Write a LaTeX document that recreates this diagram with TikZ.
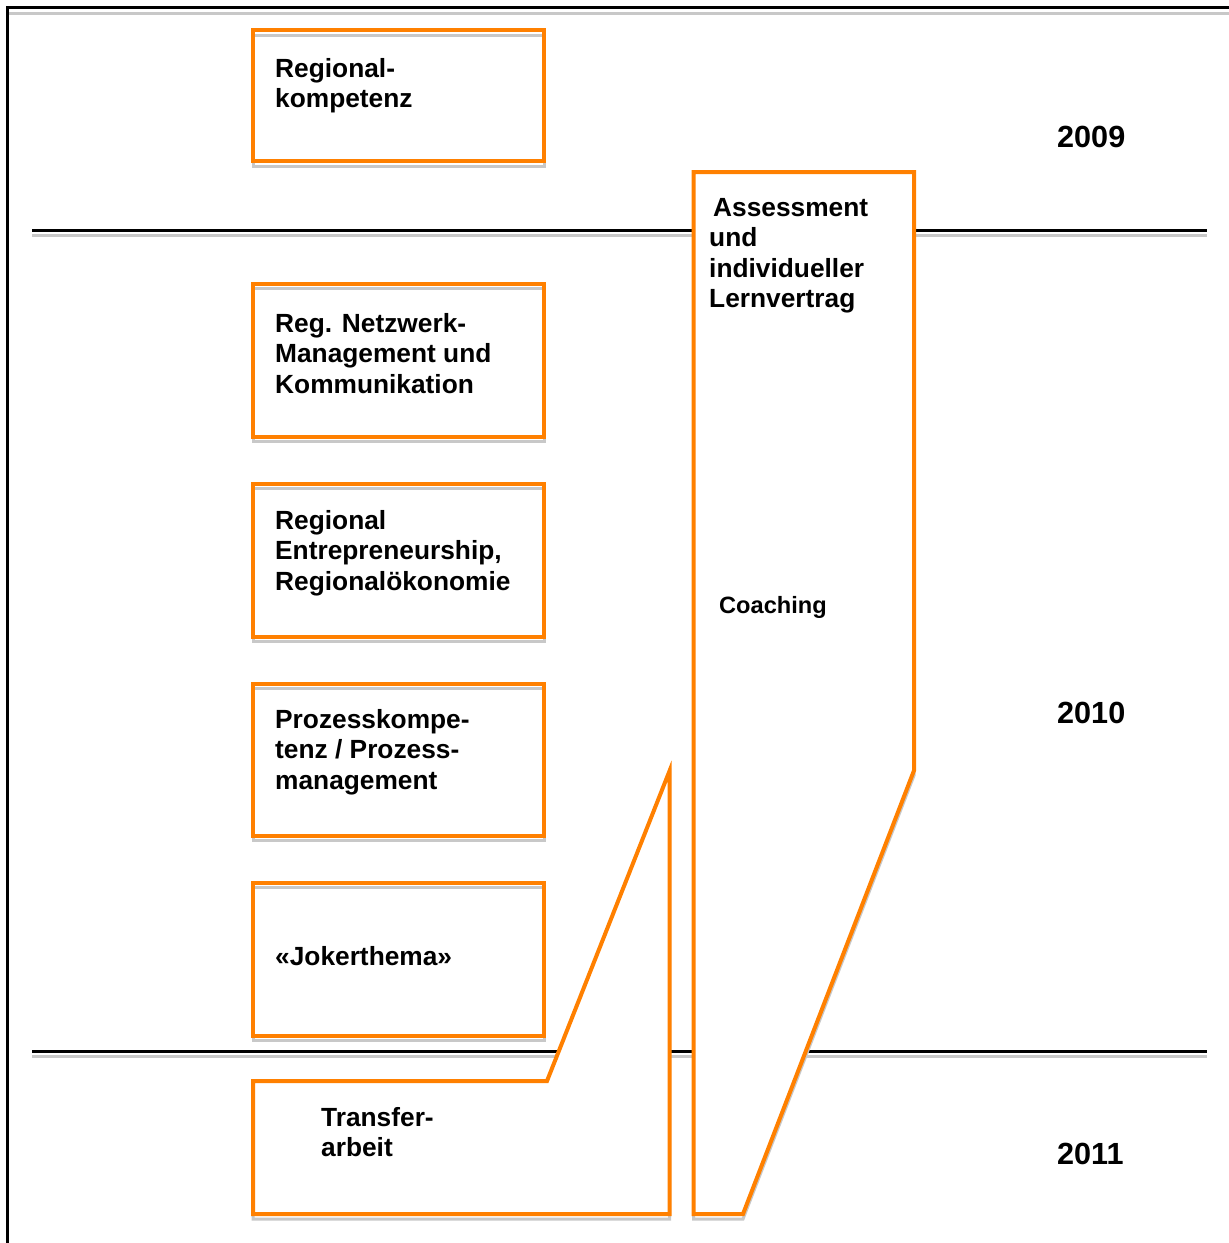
\documentclass[tikz,border=0pt]{standalone}
\usepackage{fontspec}
\setmainfont{Liberation Sans}
\definecolor{orng}{RGB}{255,128,0}
\definecolor{shd}{RGB}{200,200,200}
\newcommand\ml[1]{\begin{tabular}[t]{@{}l@{}}#1\end{tabular}}
\begin{document}
\begin{tikzpicture}[x=1pt,y=-1pt,
  blackline/.style={line width=3pt, draw=black},
  shadowline/.style={line width=3pt, draw=shd},
  obox/.style={draw=orng, line width=4pt, rectangle, inner sep=0pt, outer sep=0pt,
    minimum width=291pt, anchor=north west,
    preaction={draw=shd, line width=3pt, transform canvas={yshift=-5pt}}},
  oshape/.style={draw=orng, fill=white, line width=4pt, line join=miter},
  oshadow/.style={draw=shd, line width=3pt, shift={(0,5)}},
  txt/.style={anchor=base west, inner sep=0pt, font=\bfseries\fontsize{26.3}{30.5}\selectfont},
  small/.style={anchor=base west, inner sep=0pt, font=\bfseries\fontsize{23.6}{28}\selectfont},
  yr/.style={anchor=base west, inner sep=0pt, font=\bfseries\fontsize{30.6}{36}\selectfont},
]
\useasboundingbox (0,0) rectangle (1229,1243);
\fill[white] (0,0) rectangle (1229,1243);

% outer frame
\coordinate (ftl) at (7.5,7.5);
\coordinate (ftr) at (1229,7.5);
\coordinate (fbl) at (7.5,1243);
\draw[shadowline] (8,13.5) -- (1229,13.5);
\draw[blackline] (ftr) -- (ftl) -- (fbl);

% year separators
\coordinate (l1a) at (32,230);
\coordinate (l1b) at (1207,230);
\coordinate (l2a) at (32,1051);
\coordinate (l2b) at (1207,1051);
\draw[shadowline] (32,235) -- (1207,235);
\draw[blackline] (l1a) -- (l1b);
\draw[shadowline] (32,1056) -- (1207,1056);
\draw[blackline] (l2a) -- (l2b);

% module boxes
\node[obox, minimum height=131pt] (b1) at (253,30) {};
\node[obox, minimum height=153pt] (b2) at (253,283.5) {};
\node[obox, minimum height=153pt] (b3) at (253,483.5) {};
\node[obox, minimum height=152pt] (b4) at (253,683.5) {};
\node[obox, minimum height=153pt] (b5) at (253,882.5) {};

% transfer shape
\draw[oshadow] (253,1081) -- (547,1081) -- (669.5,771) -- (669.5,1214) -- (253,1214) -- cycle;
\draw[oshape] (253,1081) -- (547,1081) -- (669.5,771) -- (669.5,1214) -- (253,1214) -- cycle;

% coaching shape
\draw[oshadow] (693.5,172) -- (914,172) -- (914,770.5) -- (743,1214) -- (693.5,1214) -- cycle;
\draw[oshape] (693.5,172) -- (914,172) -- (914,770.5) -- (743,1214) -- (693.5,1214) -- cycle;

% texts
\node[txt] (t1) at (275,77) {\ml{Regional-\\kompetenz}};
\node[txt] (t2) at (275,332) {\ml{Reg. Netzwerk-\\Management und\\Kommunikation}};
\node[txt] (t3) at (275,529) {\ml{Regional\\Entrepreneurship,\\Regionalökonomie}};
\node[txt] (t4) at (275,728) {\ml{Prozesskompe-\\tenz / Prozess-\\management}};
\node[txt] (t5) at (275,965) {«Jokerthema»};
\node[txt] (t6) at (321,1126) {\ml{Transfer-\\arbeit}};
\node[txt] (t7) at (709,216) {\ml{\hspace{4pt}Assessment\\und\\individueller\\Lernvertrag}};
\node[small] (t8) at (719,613) {Coaching};
\node[yr] (y1) at (1057,147) {2009};
\node[yr] (y2) at (1057,723) {2010};
\node[yr] (y3) at (1057,1164) {2011};
\end{tikzpicture}
\end{document}
